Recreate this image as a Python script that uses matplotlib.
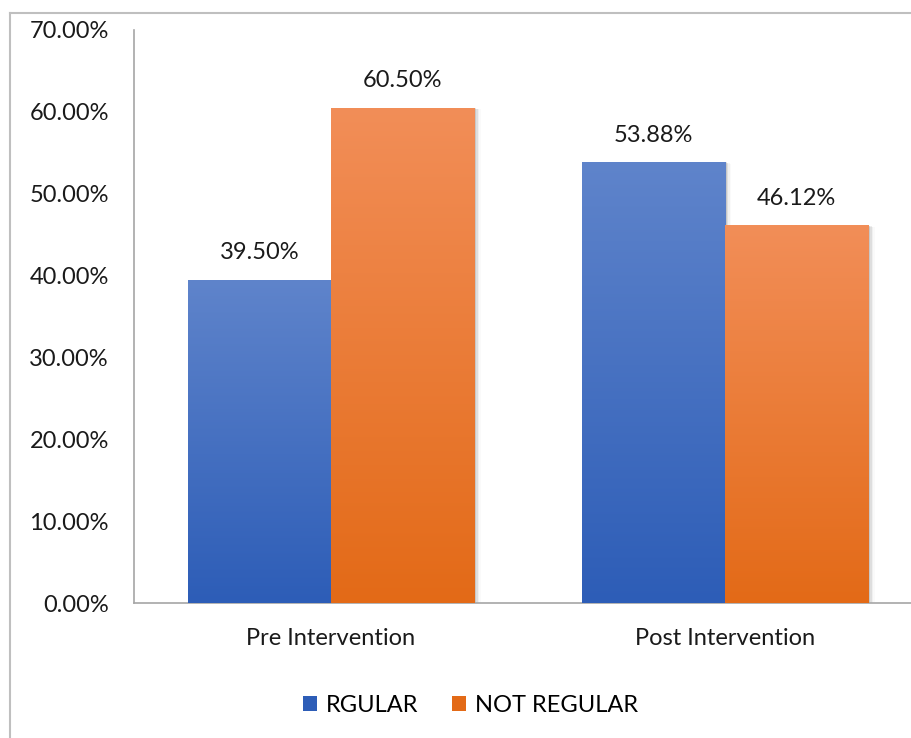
import numpy as np
import matplotlib.pyplot as plt
from matplotlib.patches import Rectangle
from matplotlib.lines import Line2D
from matplotlib.colors import LinearSegmentedColormap

plt.rcParams['font.family'] = ['Lato', 'DejaVu Sans']

categories = ["Pre Intervention", "Post Intervention"]
regular = [39.50, 53.88]
not_regular = [60.50, 46.12]
series_names = ["RGULAR", "NOT REGULAR"]
y_ticks = [0, 10, 20, 30, 40, 50, 60, 70]

blue_top, blue_bottom = "#5F84CB", "#2D5DB7"
orange_top, orange_bottom = "#F28E58", "#E36A17"
bar_width = 0.364
fs = 17


def gradient_bar(ax, x_left, height, top, bottom):
    cmap = LinearSegmentedColormap.from_list("g", [bottom, top])
    grad = np.linspace(0, 1, 256).reshape(-1, 1)
    # soft shadow to the right
    for i, a in enumerate([0.10, 0.07, 0.04, 0.02]):
        off = 0.004 * (i + 1)
        ax.add_patch(Rectangle((x_left + off, 0), bar_width, height - 0.05 * (i + 1),
                               facecolor="black", alpha=a, edgecolor="none", zorder=2))
    im = ax.imshow(grad, cmap=cmap, origin="lower", aspect="auto",
                   extent=(x_left, x_left + bar_width, 0, height), zorder=3)
    rect = Rectangle((x_left, 0), bar_width, height, transform=ax.transData,
                     facecolor="none", edgecolor="none")
    ax.add_patch(rect)
    im.set_clip_path(rect)


fig = plt.figure(figsize=(9.12, 7.38), dpi=100)
ax = fig.add_axes([134 / 912, 1 - 603 / 738, 788 / 912, 573 / 738])

x = np.arange(len(categories))
for i in range(len(categories)):
    gradient_bar(ax, x[i] - bar_width, regular[i], blue_top, blue_bottom)
    gradient_bar(ax, x[i], not_regular[i], orange_top, orange_bottom)
    ax.text(x[i] - bar_width / 2, regular[i] + 2.0, f"{regular[i]:.2f}%",
            ha="center", va="bottom", fontsize=fs, color="#1a1a1a")
    ax.text(x[i] + bar_width / 2, not_regular[i] + 2.0, f"{not_regular[i]:.2f}%",
            ha="center", va="bottom", fontsize=fs, color="#1a1a1a")

ax.set_xlim(-0.5, 1.5)
ax.set_ylim(0, 70)
ax.set_yticks(y_ticks)
ax.set_yticklabels([f"{v:.2f}%" for v in y_ticks], fontsize=fs, color="#1a1a1a")
ax.set_xticks(x)
ax.set_xticklabels(categories, fontsize=fs, color="#1a1a1a")
ax.tick_params(axis="both", length=0)
ax.tick_params(axis="y", pad=18)
ax.tick_params(axis="x", pad=18)
for s in ["top", "right"]:
    ax.spines[s].set_visible(False)
for s in ["left", "bottom"]:
    ax.spines[s].set_color("#A6A6A6")
    ax.spines[s].set_linewidth(1.2)

# outer chart border (left and top edges visible)
fig.add_artist(Line2D([10 / 912, 10 / 912], [0, 1 - 13 / 738], transform=fig.transFigure,
                      color="#BFBFBF", lw=1.5))
fig.add_artist(Line2D([10 / 912, 1], [1 - 13 / 738, 1 - 13 / 738], transform=fig.transFigure,
                      color="#BFBFBF", lw=1.5))

handles = [Rectangle((0, 0), 1, 1, facecolor=blue_bottom),
           Rectangle((0, 0), 1, 1, facecolor=orange_bottom)]
fig.legend(handles, series_names, loc="center", bbox_to_anchor=(0.516, 1 - 705 / 738),
           ncol=2, frameon=False, fontsize=fs, handlelength=0.6, handleheight=0.6,
           handletextpad=0.4, columnspacing=1.4)

fig.savefig("out.png", dpi=100)
